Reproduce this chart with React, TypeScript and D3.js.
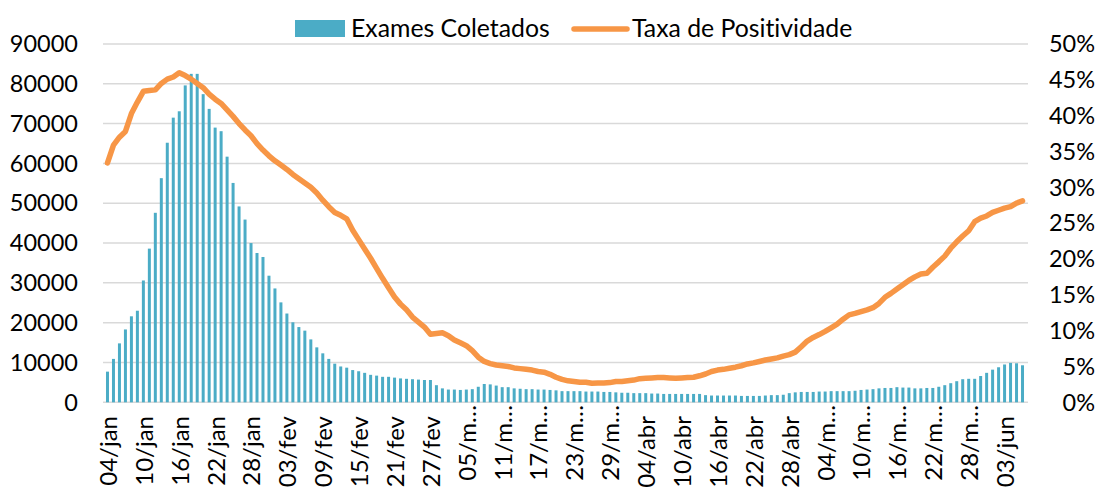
import React, { useEffect, useRef } from "react";
import * as d3 from "d3";

// exames coletados por dia, 04/jan a 06/jun
const exames = [
  7700, 10900, 14800, 18300, 21600, 23000, 30600, 38600, 47600, 56300,
  65200, 71500, 73100, 79600, 82500, 82500, 77400, 73700, 69000, 68100,
  61700, 55100, 49200, 45900, 40000, 37500, 36500, 31800, 28600, 25100,
  22300, 20100, 18900, 18000, 15800, 13800, 12300, 10900, 9700, 9000,
  8700, 8100, 7800, 7400, 6900, 6700, 6400, 6400, 6200, 6000,
  5900, 5800, 5700, 5600, 5600, 4300, 3500, 3200, 3200, 3100,
  3200, 3300, 3900, 4600, 4500, 4200, 3800, 3800, 3500, 3400,
  3300, 3300, 3200, 3200, 3100, 3000, 2800, 2800, 2800, 2800,
  2700, 2700, 2700, 2600, 2600, 2500, 2400, 2400, 2300, 2300,
  2300, 2200, 2200, 2100, 2100, 2100, 2100, 2100, 2100, 2100,
  1800, 1700, 1700, 1700, 1700, 1700, 1600, 1600, 1600, 1600,
  1700, 1800, 1800, 1900, 2300, 2500, 2600, 2600, 2600, 2700,
  2700, 2800, 2800, 2800, 2800, 2900, 3100, 3200, 3300, 3500,
  3600, 3600, 3800, 3700, 3700, 3500, 3500, 3600, 3600, 3900,
  4300, 4800, 5300, 5800, 5900, 5900, 6600, 7400, 8200, 8800,
  9500, 9900, 9800, 9300
]

// taxa de positividade (%)
const positividade = [
  33.4, 35.9, 37.0, 37.8, 40.3, 41.9, 43.4, 43.5, 43.6, 44.5,
  45.1, 45.4, 46.0, 45.6, 45.1, 44.5, 43.9, 43.0, 42.3, 41.7,
  40.8, 39.9, 38.9, 38.0, 37.2, 36.1, 35.2, 34.4, 33.7, 33.1,
  32.5, 31.8, 31.2, 30.6, 30.0, 29.2, 28.2, 27.3, 26.5, 26.1,
  25.6, 24.0, 22.7, 21.4, 20.1, 18.7, 17.3, 16.0, 14.7, 13.7,
  12.9, 11.9, 11.2, 10.5, 9.5, 9.6, 9.7, 9.3, 8.7, 8.3,
  7.9, 7.2, 6.3, 5.7, 5.4, 5.2, 5.1, 5.0, 4.8, 4.7,
  4.6, 4.5, 4.3, 4.2, 3.9, 3.5, 3.2, 3.0, 2.9, 2.8,
  2.8, 2.65, 2.7, 2.7, 2.75, 2.9, 2.9, 3.0, 3.1, 3.3,
  3.35, 3.4, 3.45, 3.45, 3.4, 3.35, 3.4, 3.45, 3.5, 3.7,
  3.95, 4.3, 4.5, 4.6, 4.75, 4.9, 5.1, 5.35, 5.5, 5.7,
  5.9, 6.05, 6.2, 6.45, 6.65, 7.0, 7.75, 8.55, 9.05, 9.45,
  9.9, 10.4, 10.9, 11.6, 12.2, 12.4, 12.65, 12.9, 13.2, 13.8,
  14.65, 15.2, 15.8, 16.4, 17.0, 17.5, 17.9, 18.0, 18.85, 19.6,
  20.4, 21.5, 22.4, 23.2, 23.95, 25.2, 25.7, 26.0, 26.5, 26.8,
  27.1, 27.3, 27.8, 28.1
]

// rotulos do eixo x, um a cada 6 dias (como aparecem, truncados)
const rotulos = [
  "04/jan", "10/jan", "16/jan", "22/jan", "28/jan", "03/fev", "09/fev",
  "15/fev", "21/fev", "27/fev", "05/m…", "11/m…", "17/m…", "23/m…",
  "29/m…", "04/abr", "10/abr", "16/abr", "22/abr", "28/abr", "04/m…",
  "10/m…", "16/m…", "22/m…", "28/m…", "03/jun"
]
const intervalo = 6

const inicio = new Date(2022, 0, 4)
const dias = d3.timeDay.range(inicio, d3.timeDay.offset(inicio, exames.length))

function drawChart (node) {
  const width = 1101
  const height = 490
  const left = 103, right = 1027, top = 44, bottom = 402.3
  const font = "Lato, 'Open Sans', sans-serif"

  const svg = d3.select(node)
  svg.selectAll('*').remove()
  svg.attr('width', width).attr('height', height)
    .style('font-family', font)
    .style('font-variant-ligatures', 'none')

  const x = d3.scaleBand()
    .domain(dias.map((d, i) => i))
    .range([left, right])
    .padding(0.5)
  const bw = x.bandwidth()
  const cx = i => x(i) + bw / 2

  const yLeft = d3.scaleLinear().domain([0, 90000]).range([bottom, top])
  const yRight = d3.scaleLinear().domain([0, 50]).range([bottom, top])

  // grid
  svg.append('g')
    .selectAll('line')
    .data(yLeft.ticks(9))
    .enter().append('line')
    .attr('x1', left).attr('x2', right + 1)
    .attr('y1', d => yLeft(d)).attr('y2', d => yLeft(d))
    .attr('stroke', '#d9d9d9')
    .attr('stroke-width', 1.5)

  // bars
  svg.append('g')
    .selectAll('rect')
    .data(exames)
    .enter().append('rect')
    .attr('x', (d, i) => x(i))
    .attr('y', d => yLeft(d))
    .attr('width', bw)
    .attr('height', d => bottom - yLeft(d))
    .attr('fill', '#4bacc6')

  // line
  const line = d3.line()
    .x((d, i) => cx(i))
    .y(d => yRight(d))
  svg.append('path')
    .datum(positividade)
    .attr('d', line)
    .attr('fill', 'none')
    .attr('stroke', '#f79646')
    .attr('stroke-width', 5.5)
    .attr('stroke-linejoin', 'round')
    .attr('stroke-linecap', 'round')

  // left axis labels
  svg.append('g')
    .selectAll('text')
    .data(yLeft.ticks(9))
    .enter().append('text')
    .attr('x', 78)
    .attr('y', d => yLeft(d))
    .attr('dy', '0.35em')
    .attr('text-anchor', 'end')
    .style('font-size', '23.5px')
    .text(d => d3.format('d')(d))

  // right axis labels
  svg.append('g')
    .selectAll('text')
    .data(yRight.ticks(10))
    .enter().append('text')
    .attr('x', 1095)
    .attr('y', d => yRight(d))
    .attr('dy', '0.35em')
    .attr('text-anchor', 'end')
    .style('font-size', '23.5px')
    .text(d => d + '%')

  // x labels (truncated ones sit a bit higher, like excel draws them)
  svg.append('g')
    .selectAll('text')
    .data(rotulos)
    .enter().append('text')
    .attr('transform', (d, i) => {
      const yy = d.includes('…') ? 405 : 416
      return 'translate(' + (cx(i * intervalo) + 1) + ',' + yy + ') rotate(-90)'
    })
    .attr('dy', '0.35em')
    .attr('text-anchor', 'end')
    .style('font-size', '24px')
    .text(d => d)

  // legend
  const legend = svg.append('g')
  legend.append('rect')
    .attr('x', 295).attr('y', 20)
    .attr('width', 50).attr('height', 17)
    .attr('fill', '#4bacc6')
  legend.append('text')
    .attr('x', 351).attr('y', 37)
    .style('font-size', '24.8px')
    .text('Exames Coletados')
  legend.append('line')
    .attr('x1', 574).attr('x2', 627)
    .attr('y1', 29).attr('y2', 29)
    .attr('stroke', '#f79646')
    .attr('stroke-width', 5.5)
    .attr('stroke-linecap', 'round')
  legend.append('text')
    .attr('x', 632).attr('y', 37)
    .style('font-size', '24.8px')
    .text('Taxa de Positividade')
}

const App = () => {
  const ref = useRef(null)

  useEffect(() => {
    document.body.style.margin = '0'
    drawChart(ref.current)
  })

  return (
    <svg ref={ref} style={{ display: 'block' }}></svg>
  )
}

export default App;
